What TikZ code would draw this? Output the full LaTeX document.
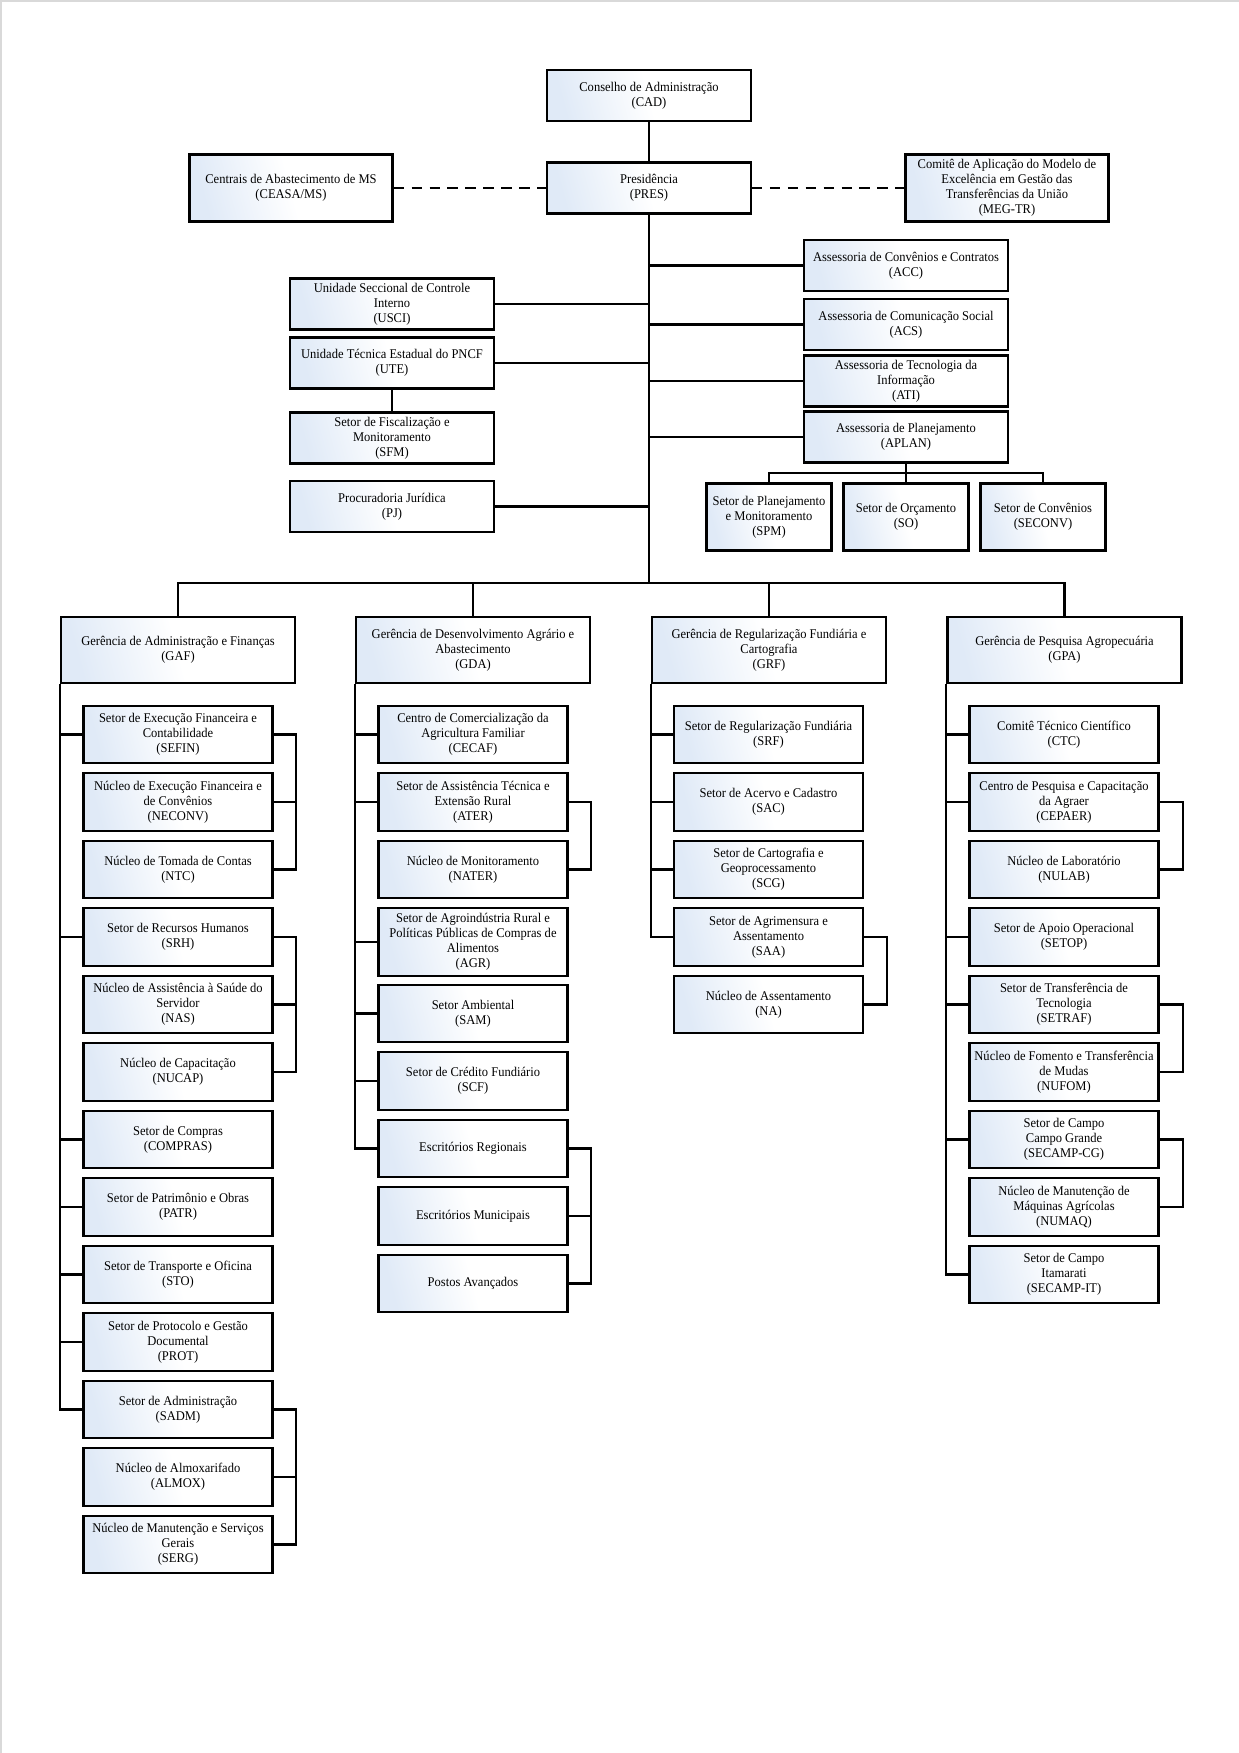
\documentclass[tikz,border=0pt]{standalone}
\usepackage{fontspec}
\setmainfont[FakeStretch=0.94]{Liberation Serif}
\definecolor{boxblue}{RGB}{224,234,247}
\begin{document}
\begin{tikzpicture}[x=0.48pt,y=-0.48pt,
    org/.style={draw, line width=1.1pt, left color=boxblue, right color=white, middle color=white,
      shading angle=105, inner sep=1pt, align=center, font=\fontsize{6.4}{7.2}\selectfont},
    headbox/.style={org, minimum width=97.7pt, minimum height=24.5pt},
    sidebox/.style={org, minimum width=97.5pt, minimum height=32.2pt},
    smallbox/.style={org, minimum width=60pt, minimum height=32.2pt},
    gerbox/.style={org, minimum width=112.3pt, minimum height=31.9pt},
    subbox/.style={org, minimum width=90.7pt, minimum height=27.6pt},
    link/.style={line width=1pt},
    dashlink/.style={line width=1.3pt, dash pattern=on 5pt off 3.6pt}]
\useasboundingbox (0,0) rectangle (1239,1753);
\draw[gray!30, line width=1pt] (1,1753) -- (1,1) -- (1239,1);

\node[headbox] (CAD) at (649,95.5) {Conselho de Administração\\(CAD)};
\node[headbox] (PRES) at (649,188) {Presidência\\(PRES)};
\node[sidebox] (CEASA) at (291,188) {Centrais de Abastecimento de MS\\(CEASA/MS)};
\node[sidebox] (MEG) at (1007,188) {Comitê de Aplicação do Modelo de\\Excelência em Gestão das\\Transferências da União\\(MEG-TR)};

\node[headbox] (ACC) at (906,265.5) {Assessoria de Convênios e Contratos\\(ACC)};
\node[headbox] (ACS) at (906,324.5) {Assessoria de Comunicação Social\\(ACS)};
\node[headbox] (ATI) at (906,381) {Assessoria de Tecnologia da\\Informação\\(ATI)};
\node[headbox] (APLAN) at (906,437) {Assessoria de Planejamento\\(APLAN)};
\node[headbox] (USCI) at (392,304) {Unidade Seccional de Controle\\Interno\\(USCI)};
\node[headbox] (UTE) at (392,363) {Unidade Técnica Estadual do PNCF\\(UTE)};
\node[headbox] (SFM) at (392,438) {Setor de Fiscalização e\\Monitoramento\\(SFM)};
\node[headbox] (PJ) at (392,506.5) {Procuradoria Jurídica\\(PJ)};
\node[smallbox] (SPM) at (769,517) {Setor de Planejamento\\e Monitoramento\\(SPM)};
\node[smallbox] (SO) at (906,517) {Setor de Orçamento\\(SO)};
\node[smallbox] (SECONV) at (1043,517) {Setor de Convênios\\(SECONV)};

\node[gerbox] (GAF) at (178,650) {Gerência de Administração e Finanças\\(GAF)};
\node[gerbox] (GDA) at (473,650) {Gerência de Desenvolvimento Agrário e\\Abastecimento\\(GDA)};
\node[gerbox] (GRF) at (769,650) {Gerência de Regularização Fundiária e\\Cartografia\\(GRF)};
\node[gerbox] (GPA) at (1064.5,650) {Gerência de Pesquisa Agropecuária\\(GPA)};

\node[subbox] (SEFIN) at (178,734.5) {Setor de Execução Financeira e\\Contabilidade\\(SEFIN)};
\node[subbox] (NECONV) at (178,802) {Núcleo de Execução Financeira e\\de Convênios\\(NECONV)};
\node[subbox] (NTC) at (178,869.5) {Núcleo de Tomada de Contas\\(NTC)};
\node[subbox] (SRH) at (178,937) {Setor de Recursos Humanos\\(SRH)};
\node[subbox] (NAS) at (178,1004.5) {Núcleo de Assistência à Saúde do\\Servidor\\(NAS)};
\node[subbox] (NUCAP) at (178,1072) {Núcleo de Capacitação\\(NUCAP)};
\node[subbox] (COMPRAS) at (178,1139.5) {Setor de Compras\\(COMPRAS)};
\node[subbox] (PATR) at (178,1207) {Setor de Patrimônio e Obras\\(PATR)};
\node[subbox] (STO) at (178,1274.5) {Setor de Transporte e Oficina\\(STO)};
\node[subbox] (PROT) at (178,1342) {Setor de Protocolo e Gestão\\Documental\\(PROT)};
\node[subbox] (SADM) at (178,1409.5) {Setor de Administração\\(SADM)};
\node[subbox] (ALMOX) at (178,1477) {Núcleo de Almoxarifado\\(ALMOX)};
\node[subbox] (SERG) at (178,1544.5) {Núcleo de Manutenção e Serviços\\Gerais\\(SERG)};

\node[subbox] (CECAF) at (473,734.5) {Centro de Comercialização da\\Agricultura Familiar\\(CECAF)};
\node[subbox] (ATER) at (473,802) {Setor de Assistência Técnica e\\Extensão Rural\\(ATER)};
\node[subbox] (NATER) at (473,869.5) {Núcleo de Monitoramento\\(NATER)};
\node[subbox, minimum height=32.4pt] (AGR) at (473,942) {Setor de Agroindústria Rural e\\Políticas Públicas de Compras de\\Alimentos\\(AGR)};
\node[subbox] (SAM) at (473,1013.5) {Setor Ambiental\\(SAM)};
\node[subbox] (SCF) at (473,1081) {Setor de Crédito Fundiário\\(SCF)};
\node[subbox] (ESREG) at (473,1148.5) {Escritórios Regionais};
\node[subbox] (ESMUN) at (473,1216) {Escritórios Municipais};
\node[subbox] (POSTOS) at (473,1283.5) {Postos Avançados};

\node[subbox] (SRF) at (768.5,734.5) {Setor de Regularização Fundiária\\(SRF)};
\node[subbox] (SAC) at (768.5,802) {Setor de Acervo e Cadastro\\(SAC)};
\node[subbox] (SCG) at (768.5,869.5) {Setor de Cartografia e\\Geoprocessamento\\(SCG)};
\node[subbox] (SAA) at (768.5,937) {Setor de Agrimensura e\\Assentamento\\(SAA)};
\node[subbox] (NA) at (768.5,1004.5) {Núcleo de Assentamento\\(NA)};

\node[subbox] (CTC) at (1064,734.5) {Comitê Técnico Científico\\(CTC)};
\node[subbox] (CEPAER) at (1064,802) {Centro de Pesquisa e Capacitação\\da Agraer\\(CEPAER)};
\node[subbox] (NULAB) at (1064,869.5) {Núcleo de Laboratório\\(NULAB)};
\node[subbox] (SETOP) at (1064,937) {Setor de Apoio Operacional\\(SETOP)};
\node[subbox] (SETRAF) at (1064,1004.5) {Setor de Transferência de\\Tecnologia\\(SETRAF)};
\node[subbox] (NUFOM) at (1064,1072) {Núcleo de Fomento e Transferência\\de Mudas\\(NUFOM)};
\node[subbox] (SECAMPCG) at (1064,1139.5) {Setor de Campo\\Campo Grande\\(SECAMP-CG)};
\node[subbox] (NUMAQ) at (1064,1207) {Núcleo de Manutenção de\\Máquinas Agrícolas\\(NUMAQ)};
\node[subbox] (SECAMPIT) at (1064,1274.5) {Setor de Campo\\Itamarati\\(SECAMP-IT)};

\coordinate (bus) at (649,583);
\coordinate (aplanbus) at (906,473);

\draw[link] (CAD) -- (PRES);
\draw[dashlink] (CEASA) -- (PRES);
\draw[dashlink] (PRES) -- (MEG);
\draw[link] (PRES.south) -- (bus);
\draw[link] (ACC.west) -- (ACC -| bus);
\draw[link] (ACS.west) -- (ACS -| bus);
\draw[link] (ATI.west) -- (ATI -| bus);
\draw[link] (APLAN.west) -- (APLAN -| bus);
\draw[link] (USCI.east) -- (USCI -| bus);
\draw[link] (UTE.east) -- (UTE -| bus);
\draw[link] (UTE) -- (SFM);
\draw[link] (PJ.east) -- (PJ -| bus);
\draw[link] (APLAN.south) -- (aplanbus);
\draw[link] (SPM.north) |- (aplanbus) -| (SECONV.north);
\draw[link] (SO.north) -- (aplanbus);
\draw[link] (GAF.north) |- (bus) -| (GPA.north);
\draw[link] (GDA.north) -- (GDA.north |- bus);
\draw[link] (GRF.north) -- (GRF.north |- bus);

\draw[link] (GAF.south west) |- (SADM.west);
\draw[link] (SEFIN.west) -- (SEFIN -| GAF.west);
\draw[link] (SRH.west) -- (SRH -| GAF.west);
\draw[link] (COMPRAS.west) -- (COMPRAS -| GAF.west);
\draw[link] (PATR.west) -- (PATR -| GAF.west);
\draw[link] (STO.west) -- (STO -| GAF.west);
\draw[link] (PROT.west) -- (PROT -| GAF.west);
\draw[link] (SEFIN.east) -| (NTC -| GAF.east) -- (NTC.east);
\draw[link] (NECONV.east) -- (NECONV -| GAF.east);
\draw[link] (SRH.east) -| (NUCAP -| GAF.east) -- (NUCAP.east);
\draw[link] (NAS.east) -- (NAS -| GAF.east);
\draw[link] (SADM.east) -| (SERG -| GAF.east) -- (SERG.east);
\draw[link] (ALMOX.east) -- (ALMOX -| GAF.east);

\draw[link] (GDA.south west) |- (ESREG.west);
\draw[link] (CECAF.west) -- (CECAF -| GDA.west);
\draw[link] (ATER.west) -- (ATER -| GDA.west);
\draw[link] (AGR.west) -- (AGR -| GDA.west);
\draw[link] (SAM.west) -- (SAM -| GDA.west);
\draw[link] (SCF.west) -- (SCF -| GDA.west);
\draw[link] (ATER.east) -| (NATER -| GDA.east) -- (NATER.east);
\draw[link] (ESREG.east) -| (POSTOS -| GDA.east) -- (POSTOS.east);
\draw[link] (ESMUN.east) -- (ESMUN -| GDA.east);

\draw[link] (GRF.south west) |- (SAA.west);
\draw[link] (SRF.west) -- (SRF -| GRF.west);
\draw[link] (SAC.west) -- (SAC -| GRF.west);
\draw[link] (SCG.west) -- (SCG -| GRF.west);
\draw[link] (SAA.east) -| (NA -| GRF.east) -- (NA.east);

\draw[link] (GPA.south west) |- (SECAMPIT.west);
\draw[link] (CTC.west) -- (CTC -| GPA.west);
\draw[link] (CEPAER.west) -- (CEPAER -| GPA.west);
\draw[link] (SETOP.west) -- (SETOP -| GPA.west);
\draw[link] (SETRAF.west) -- (SETRAF -| GPA.west);
\draw[link] (SECAMPCG.west) -- (SECAMPCG -| GPA.west);
\draw[link] (CEPAER.east) -| (NULAB -| GPA.east) -- (NULAB.east);
\draw[link] (SETRAF.east) -| (NUFOM -| GPA.east) -- (NUFOM.east);
\draw[link] (SECAMPCG.east) -| (NUMAQ -| GPA.east) -- (NUMAQ.east);
\end{tikzpicture}
\end{document}
